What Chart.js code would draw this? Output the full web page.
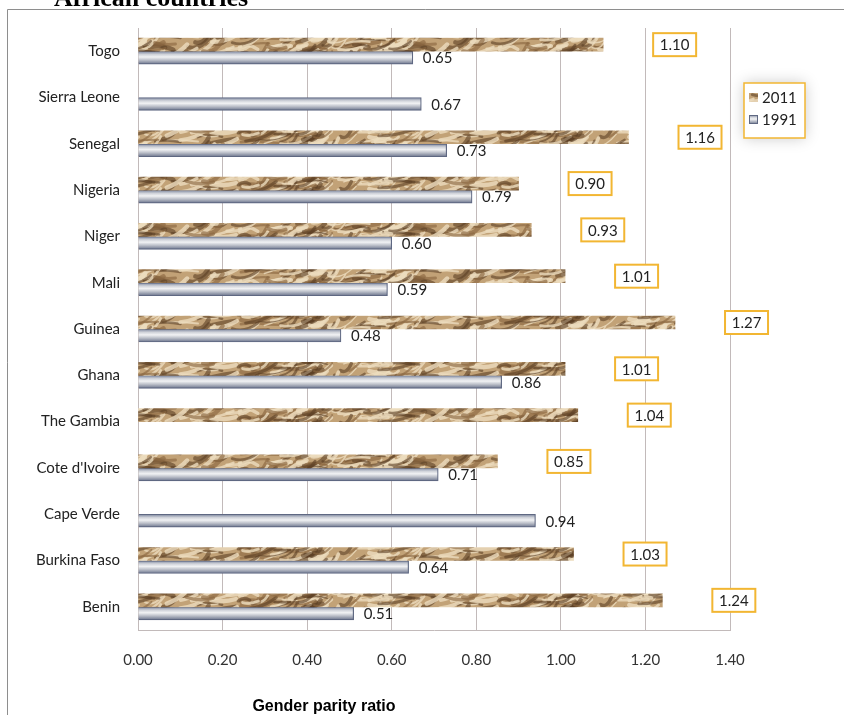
<!DOCTYPE html>
<html>
<head>
<meta charset="utf-8">
<script src="https://cdn.jsdelivr.net/npm/chart.js@4.4.0/dist/chart.umd.min.js"></script>
<style>
  html, body { margin: 0; padding: 0; background: #fff; }
  #wrap { position: relative; width: 844px; height: 715px; overflow: hidden; }
</style>
</head>
<body>
<div id="wrap"><canvas id="c" width="844" height="715"></canvas></div>
<script>
// Gender parity ratio by country, 1991 vs 2011
const countries = ['Togo', 'Sierra Leone', 'Senegal', 'Nigeria', 'Niger', 'Mali', 'Guinea',
  'Ghana', 'The Gambia', "Cote d'Ivoire", 'Cape Verde', 'Burkina Faso', 'Benin'];
const ratio2011 = [1.10, null, 1.16, 0.90, 0.93, 1.01, 1.27, 1.01, 1.04, 0.85, null, 1.03, 1.24];
const ratio1991 = [0.65, 0.67, 0.73, 0.79, 0.60, 0.59, 0.48, 0.86, null, 0.71, 0.94, 0.64, 0.51];
const seriesNames = ['2011', '1991'];
const xTickValues = [0, 0.2, 0.4, 0.6, 0.8, 1.0, 1.2, 1.4];
const pageTitle = 'African countries';
const axisTitle = 'Gender parity ratio';

const BAR = 13;
const FONT = 'Lato, "Open Sans", sans-serif';
const GRID = '#c2baba';
const ORANGE = '#f2b632';

const canvas = document.getElementById('c');
const ctx2d = canvas.getContext('2d');

// crumpled-paper fill for the 2011 bars
function paperPattern() {
  const w = 260, h = 26;
  const cv = document.createElement('canvas');
  cv.width = w; cv.height = h;
  const g = cv.getContext('2d');
  g.fillStyle = '#c2a277';
  g.fillRect(0, 0, w, h);
  const hash = n => { const s = Math.sin(n * 12.9898) * 43758.5453; return s - Math.floor(s); };
  g.lineCap = 'round';
  g.filter = 'blur(0.7px)';
  const strokes = [];
  for (let i = 0; i < 120; i++) {
    const kind = hash(i + 401);
    strokes.push({
      x: hash(i + 1) * w, y: hash(i + 101) * h,
      len: 8 + hash(i + 201) * 26,
      ang: -0.75 + hash(i + 301) * 0.9,
      col: kind < 0.45 ? 'rgba(92,64,36,0.6)' : (kind < 0.8 ? 'rgba(236,220,190,0.8)' : 'rgba(140,104,66,0.65)'),
      lw: 1.2 + hash(i + 501) * 3.5,
      bend: (hash(i + 601) - 0.5) * 10
    });
  }
  for (const s of strokes) {
    g.strokeStyle = s.col;
    g.lineWidth = s.lw;
    for (const dx of [-w, 0, w]) for (const dy of [-h, 0, h]) {
      g.beginPath();
      g.moveTo(s.x + dx, s.y + dy);
      g.quadraticCurveTo(s.x + dx + s.len / 2, s.y + dy + s.bend,
        s.x + dx + s.len * Math.cos(s.ang), s.y + dy + s.len * Math.sin(s.ang));
      g.stroke();
    }
  }
  return ctx2d.createPattern(cv, 'repeat');
}
const paper = paperPattern();

function steelGradient(ctx, top, h) {
  const g = ctx.createLinearGradient(0, top, 0, top + h);
  g.addColorStop(0, '#77819a');
  g.addColorStop(0.25, '#cfd2d9');
  g.addColorStop(0.45, '#f1f2f4');
  g.addColorStop(0.7, '#b9bdc7');
  g.addColorStop(1, '#6a738c');
  return g;
}

// value labels: boxed for 2011, plain for 1991
const valueLabels = {
  id: 'valueLabels',
  afterDatasetsDraw(chart) {
    const ctx = chart.ctx;
    ctx.save();
    ctx.font = '15px ' + FONT;
    ctx.textBaseline = 'middle';
    chart.getDatasetMeta(0).data.forEach((bar, i) => {
      const v = ratio2011[i];
      if (v == null) return;
      const bx = bar.x + 50, by = bar.y - 11.5, bw = 43, bh = 23;
      ctx.fillStyle = '#fff';
      ctx.fillRect(bx, by, bw, bh);
      ctx.strokeStyle = ORANGE;
      ctx.lineWidth = 2;
      ctx.strokeRect(bx, by, bw, bh);
      ctx.fillStyle = '#222';
      ctx.textAlign = 'center';
      ctx.fillText(v.toFixed(2), bx + bw / 2, bar.y + 1);
    });
    chart.getDatasetMeta(1).data.forEach((bar, i) => {
      const v = ratio1991[i];
      if (v == null) return;
      ctx.fillStyle = '#222';
      ctx.textAlign = 'left';
      ctx.fillText(v.toFixed(2), bar.x + 10, bar.y + 1);
    });
    ctx.restore();
  }
};

// frame, heading, axis title and legend
const decorations = {
  id: 'decorations',
  afterDraw(chart) {
    const ctx = chart.ctx;
    ctx.save();
    // outer frame
    ctx.strokeStyle = '#8e8e8e';
    ctx.lineWidth = 1;
    ctx.beginPath();
    ctx.moveTo(7.5, 715);
    ctx.lineTo(7.5, 9.5);
    ctx.lineTo(844, 9.5);
    ctx.stroke();
    // heading (runs off the top edge)
    ctx.fillStyle = '#000';
    ctx.font = 'bold 26px "Liberation Serif", serif';
    ctx.textAlign = 'left';
    ctx.textBaseline = 'alphabetic';
    ctx.fillText(pageTitle, 54, 6);
    // axis title
    ctx.font = 'bold 16px "Liberation Sans Narrow", "Liberation Sans", sans-serif';
    ctx.textAlign = 'center';
    ctx.textBaseline = 'middle';
    ctx.fillText(axisTitle, 324, 707);
    // legend
    const lx = 744, ly = 83, lw = 61, lh = 55;
    ctx.shadowColor = 'rgba(0,0,0,0.22)';
    ctx.shadowBlur = 14;
    ctx.fillStyle = '#fff';
    ctx.fillRect(lx, ly, lw, lh);
    ctx.shadowColor = 'transparent';
    ctx.shadowBlur = 0;
    ctx.strokeStyle = ORANGE;
    ctx.lineWidth = 1.5;
    ctx.strokeRect(lx, ly, lw, lh);
    ctx.fillStyle = paper;
    ctx.fillRect(749, 93, 9, 9);
    ctx.fillStyle = steelGradient(ctx, 115, 9);
    ctx.fillRect(749, 115, 9, 9);
    ctx.strokeStyle = '#5f6882';
    ctx.lineWidth = 1;
    ctx.strokeRect(749.5, 115.5, 8, 8);
    ctx.font = '15px ' + FONT;
    ctx.fillStyle = '#222';
    ctx.textAlign = 'left';
    ctx.fillText(seriesNames[0], 762, 98);
    ctx.fillText(seriesNames[1], 762, 120);
    ctx.restore();
  }
};

new Chart(canvas, {
  type: 'bar',
  data: {
    labels: countries,
    datasets: [
      {
        label: seriesNames[0],
        data: ratio2011,
        backgroundColor: paper,
        borderWidth: 0,
        barThickness: BAR
      },
      {
        label: seriesNames[1],
        data: ratio1991,
        backgroundColor: (c) => {
          const ys = c.chart.scales.y;
          if (c.type !== 'data' || !ys) return '#c8cbd2';
          const top = ys.getPixelForValue(c.dataIndex);
          if (!isFinite(top)) return '#c8cbd2';
          return steelGradient(c.chart.ctx, top, BAR);
        },
        borderColor: '#5f6882',
        borderWidth: 1.2,
        borderSkipped: 'start',
        barThickness: BAR
      }
    ]
  },
  options: {
    indexAxis: 'y',
    responsive: false,
    animation: false,
    layout: { padding: { left: 0, right: 114, top: 28, bottom: 0 } },
    plugins: {
      legend: { display: false },
      tooltip: { enabled: false }
    },
    scales: {
      x: {
        min: 0,
        max: 1.4,
        afterBuildTicks: (s) => { s.ticks = xTickValues.map(v => ({ value: v })); },
        afterFit: (s) => { s.height = 85; },
        grid: { color: GRID, drawTicks: false },
        border: { color: GRID },
        ticks: {
          padding: 21,
          color: '#333',
          font: { family: FONT, size: 15 },
          callback: (v) => Number(v).toFixed(2)
        }
      },
      y: {
        afterFit: (s) => { s.width = 138; },
        grid: { display: false, drawTicks: false },
        border: { display: false },
        ticks: {
          padding: 18,
          color: '#222',
          font: { family: FONT, size: 15 }
        }
      }
    }
  },
  plugins: [valueLabels, decorations]
});
</script>
</body>
</html>
